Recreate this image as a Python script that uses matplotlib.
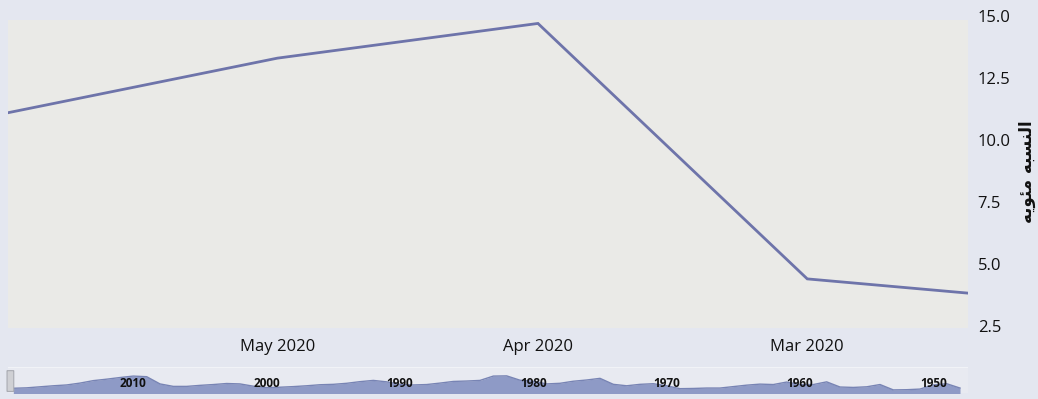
import datetime as dt
import matplotlib
matplotlib.use("Agg")
import matplotlib.pyplot as plt
import matplotlib.dates as mdates
from matplotlib.patches import FancyBboxPatch

plt.rcParams['font.family'] = ['Open Sans', 'DejaVu Sans']

# monthly unemployment rate, 2020 (percent)
months = [dt.datetime(2020, 2, 1), dt.datetime(2020, 3, 1), dt.datetime(2020, 4, 1),
          dt.datetime(2020, 5, 1), dt.datetime(2020, 6, 1)]
rate = [3.5, 4.4, 14.7, 13.3, 11.1]

# long history for the navigator strip (annual averages)
years = list(range(1948, 2020))
history = [3.8, 5.9, 5.3, 3.3, 3.0, 2.9, 5.5, 4.4, 4.1, 4.3,
           6.8, 5.5, 5.5, 6.7, 5.5, 5.7, 5.2, 4.5, 3.8, 3.8,
           3.6, 3.5, 4.9, 5.9, 5.6, 4.9, 5.6, 8.5, 7.7, 7.1,
           6.1, 5.8, 7.1, 7.6, 9.7, 9.6, 7.5, 7.2, 7.0, 6.2,
           5.5, 5.3, 5.6, 6.8, 7.5, 6.9, 6.1, 5.6, 5.4, 4.9,
           4.5, 4.2, 4.0, 4.7, 5.8, 6.0, 5.5, 5.1, 4.6, 4.6,
           5.8, 9.3, 9.6, 8.9, 8.1, 7.4, 6.2, 5.3, 4.9, 4.4,
           3.9, 3.7]
nav_labels = [2010, 2000, 1990, 1980, 1970, 1960, 1950]

yticks = [2.5, 5.0, 7.5, 10.0, 12.5, 15.0]
# "النسبه مئويه" in Arabic presentation forms, visual order
ylabel = "\uFEEA\uFEF3\uFEEE\uFE8C\uFEE3 \uFEEA\uFE92\uFEB4\uFEE8\uFEDF\uFE8D"

fig_bg = '#e4e7f0'
plot_bg = '#eaeae7'
line_col = '#6e74aa'

fig = plt.figure(figsize=(10.38, 3.99), dpi=100, facecolor=fig_bg)

# main chart
ax = fig.add_axes([8/1038, 1-328/399, 960/1038, 312/399])
ax.set_facecolor(fig_bg)
ax.axhspan(0, 14.84, color=plot_bg, zorder=0, lw=0)
ax.plot(months, rate, color=line_col, lw=2.0, solid_joinstyle='miter', zorder=3)
ax.set_xlim(dt.datetime(2020, 6, 1), dt.datetime(2020, 2, 11, 12))
ax.set_ylim(2.42, 15.0)
ax.xaxis.set_major_locator(mdates.MonthLocator(bymonth=[3, 4, 5]))
ax.xaxis.set_major_formatter(mdates.DateFormatter('%b %Y'))
ax.yaxis.tick_right()
ax.set_yticks(yticks)
ax.set_yticklabels([f"{v:.1f}" for v in yticks])
ax.tick_params(axis='x', length=0, pad=8, labelsize=12, colors='#111111')
ax.tick_params(axis='y', length=0, pad=7, labelsize=12, colors='#111111')
for s in ax.spines.values():
    s.set_visible(False)
ax.yaxis.set_label_position('right')
ax.set_ylabel(ylabel, family='DejaVu Sans', fontweight='bold', fontsize=12,
              rotation=90, labelpad=5, color='#111111')

# navigator strip
nav = fig.add_axes([8/1038, 1-393/399, 960/1038, 26/399])
nav.set_facecolor('#e8eaf1')
nav.fill_between(years, history, 0, color='#8e9ac6', lw=0)
nav.plot(years, history, color='#7884b4', lw=1.0)
nav.set_xlim(2019.4, 1947.4)
nav.set_ylim(1.4, 14.0)
nav.set_xticks([])
nav.set_yticks([])
for s in nav.spines.values():
    s.set_visible(False)
nav.axhline(14.0, color='#f4f5f9', lw=1.2)
for yr in nav_labels:
    nav.text(yr, 0.38, str(yr), transform=nav.get_xaxis_transform(),
             ha='center', va='center', fontsize=8.5, fontweight='bold', color='#111111')

# left drag handle
handle = FancyBboxPatch((-0.001, 0.06), 0.007, 0.8, boxstyle='round,pad=0,rounding_size=0.003',
                        transform=nav.transAxes, clip_on=False,
                        facecolor='#cfd0d4', edgecolor='#a9abb2', lw=0.8, zorder=5)
nav.add_patch(handle)

fig.savefig('out.png', dpi=100, facecolor=fig_bg)
